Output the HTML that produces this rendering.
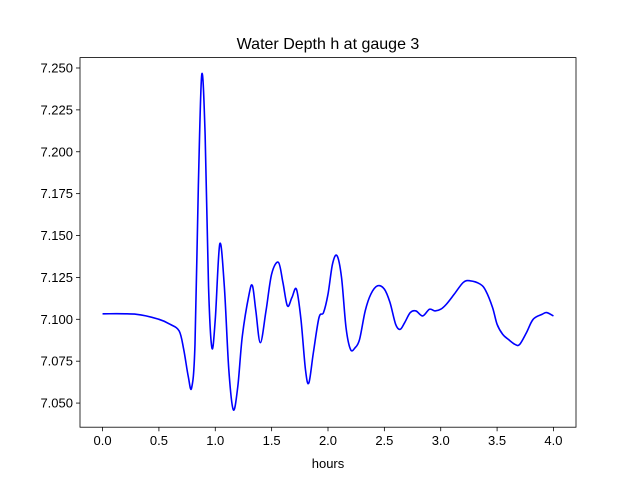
<!DOCTYPE html>
<html><head><meta charset="utf-8"><style>
body{margin:0;background:#fff;}
svg text{font-family:"Liberation Sans","DejaVu Sans",sans-serif;fill:#000;}
</style></head><body>
<svg id="chart" width="640" height="480" xmlns="http://www.w3.org/2000/svg">
<rect width="640" height="480" fill="#fff"/>
<text x="328" y="49" font-size="16" text-anchor="middle">Water Depth h at gauge 3</text>
<text x="328" y="468" font-size="13" text-anchor="middle">hours</text>
<g id="axes"></g>
</svg>
<script>
const hours=[0,0.3,0.5,0.6,0.68,0.72,0.76,0.79,0.82,0.85,0.88,0.91,0.94,0.97,1.0,1.04,1.08,1.12,1.16,1.20,1.24,1.30,1.33,1.36,1.40,1.45,1.50,1.56,1.60,1.64,1.68,1.72,1.76,1.80,1.83,1.87,1.92,1.96,2.00,2.04,2.08,2.12,2.16,2.20,2.24,2.28,2.33,2.38,2.44,2.50,2.55,2.60,2.64,2.68,2.73,2.78,2.84,2.90,2.95,3.00,3.05,3.12,3.20,3.26,3.35,3.40,3.46,3.50,3.55,3.60,3.66,3.70,3.76,3.82,3.90,3.94,4.0];
const depth=[7.1033,7.1030,7.100,7.097,7.093,7.082,7.066,7.059,7.085,7.180,7.246,7.210,7.120,7.083,7.100,7.145,7.120,7.070,7.046,7.060,7.090,7.115,7.120,7.105,7.086,7.105,7.127,7.134,7.122,7.108,7.113,7.118,7.100,7.070,7.062,7.080,7.101,7.104,7.115,7.133,7.138,7.125,7.095,7.082,7.083,7.088,7.105,7.115,7.120,7.118,7.110,7.097,7.094,7.098,7.104,7.105,7.102,7.106,7.105,7.106,7.109,7.115,7.122,7.123,7.121,7.117,7.107,7.097,7.091,7.088,7.085,7.085,7.092,7.100,7.103,7.104,7.102];
const xTicks=[0,0.5,1.0,1.5,2.0,2.5,3.0,3.5,4.0];
const yTicks=[7.050,7.075,7.100,7.125,7.150,7.175,7.200,7.225,7.250];
const L=80,R=576,T=57.6,B=427.2,xMin=-0.2,xMax=4.2,yMin=7.0356,yMax=7.2562;
const sx=v=>L+(v-xMin)/(xMax-xMin)*(R-L);
const sy=v=>B-(v-yMin)/(yMax-yMin)*(B-T);
const g=document.getElementById('axes');
const NS='http://www.w3.org/2000/svg';
function mk(tag,attrs){const e=document.createElementNS(NS,tag);for(const k in attrs)e.setAttribute(k,attrs[k]);g.appendChild(e);return e;}
xTicks.forEach(t=>{
  const l=mk('line',{x1:sx(t),x2:sx(t),y1:B,y2:B+4,stroke:'#000','stroke-width':0.8});
  
  
  const tx=mk('text',{x:sx(t),y:B+18,'font-size':13,'text-anchor':'middle'});
  tx.textContent=t.toFixed(1);
  
  
});
yTicks.forEach(t=>{
  const l=mk('line',{x1:L-4,x2:L,y1:sy(t),y2:sy(t),stroke:'#000','stroke-width':0.8});
  
  
  const tx=mk('text',{x:L-7,y:sy(t)+4.5,'font-size':13,'text-anchor':'end'});
  tx.textContent=t.toFixed(3);
  
  
});
const pts=hours.map((h,i)=>[sx(h),sy(depth[i])]);
let d='M'+pts[0][0]+','+pts[0][1];
for(let i=0;i<pts.length-1;i++){
  const p0=pts[Math.max(0,i-1)],p1=pts[i],p2=pts[i+1],p3=pts[Math.min(pts.length-1,i+2)];
  const c1=[p1[0]+(p2[0]-p0[0])/6,p1[1]+(p2[1]-p0[1])/6];
  const c2=[p2[0]-(p3[0]-p1[0])/6,p2[1]-(p3[1]-p1[1])/6];
  d+=' C'+c1+' '+c2+' '+p2;
}
const line=mk('path',{d:d,fill:'none',stroke:'#0000ff','stroke-width':1.6});


const frame=mk('rect',{x:L,y:T,width:R-L,height:B-T,fill:'none',stroke:'#000','stroke-width':0.8});


</script>
</body></html>
